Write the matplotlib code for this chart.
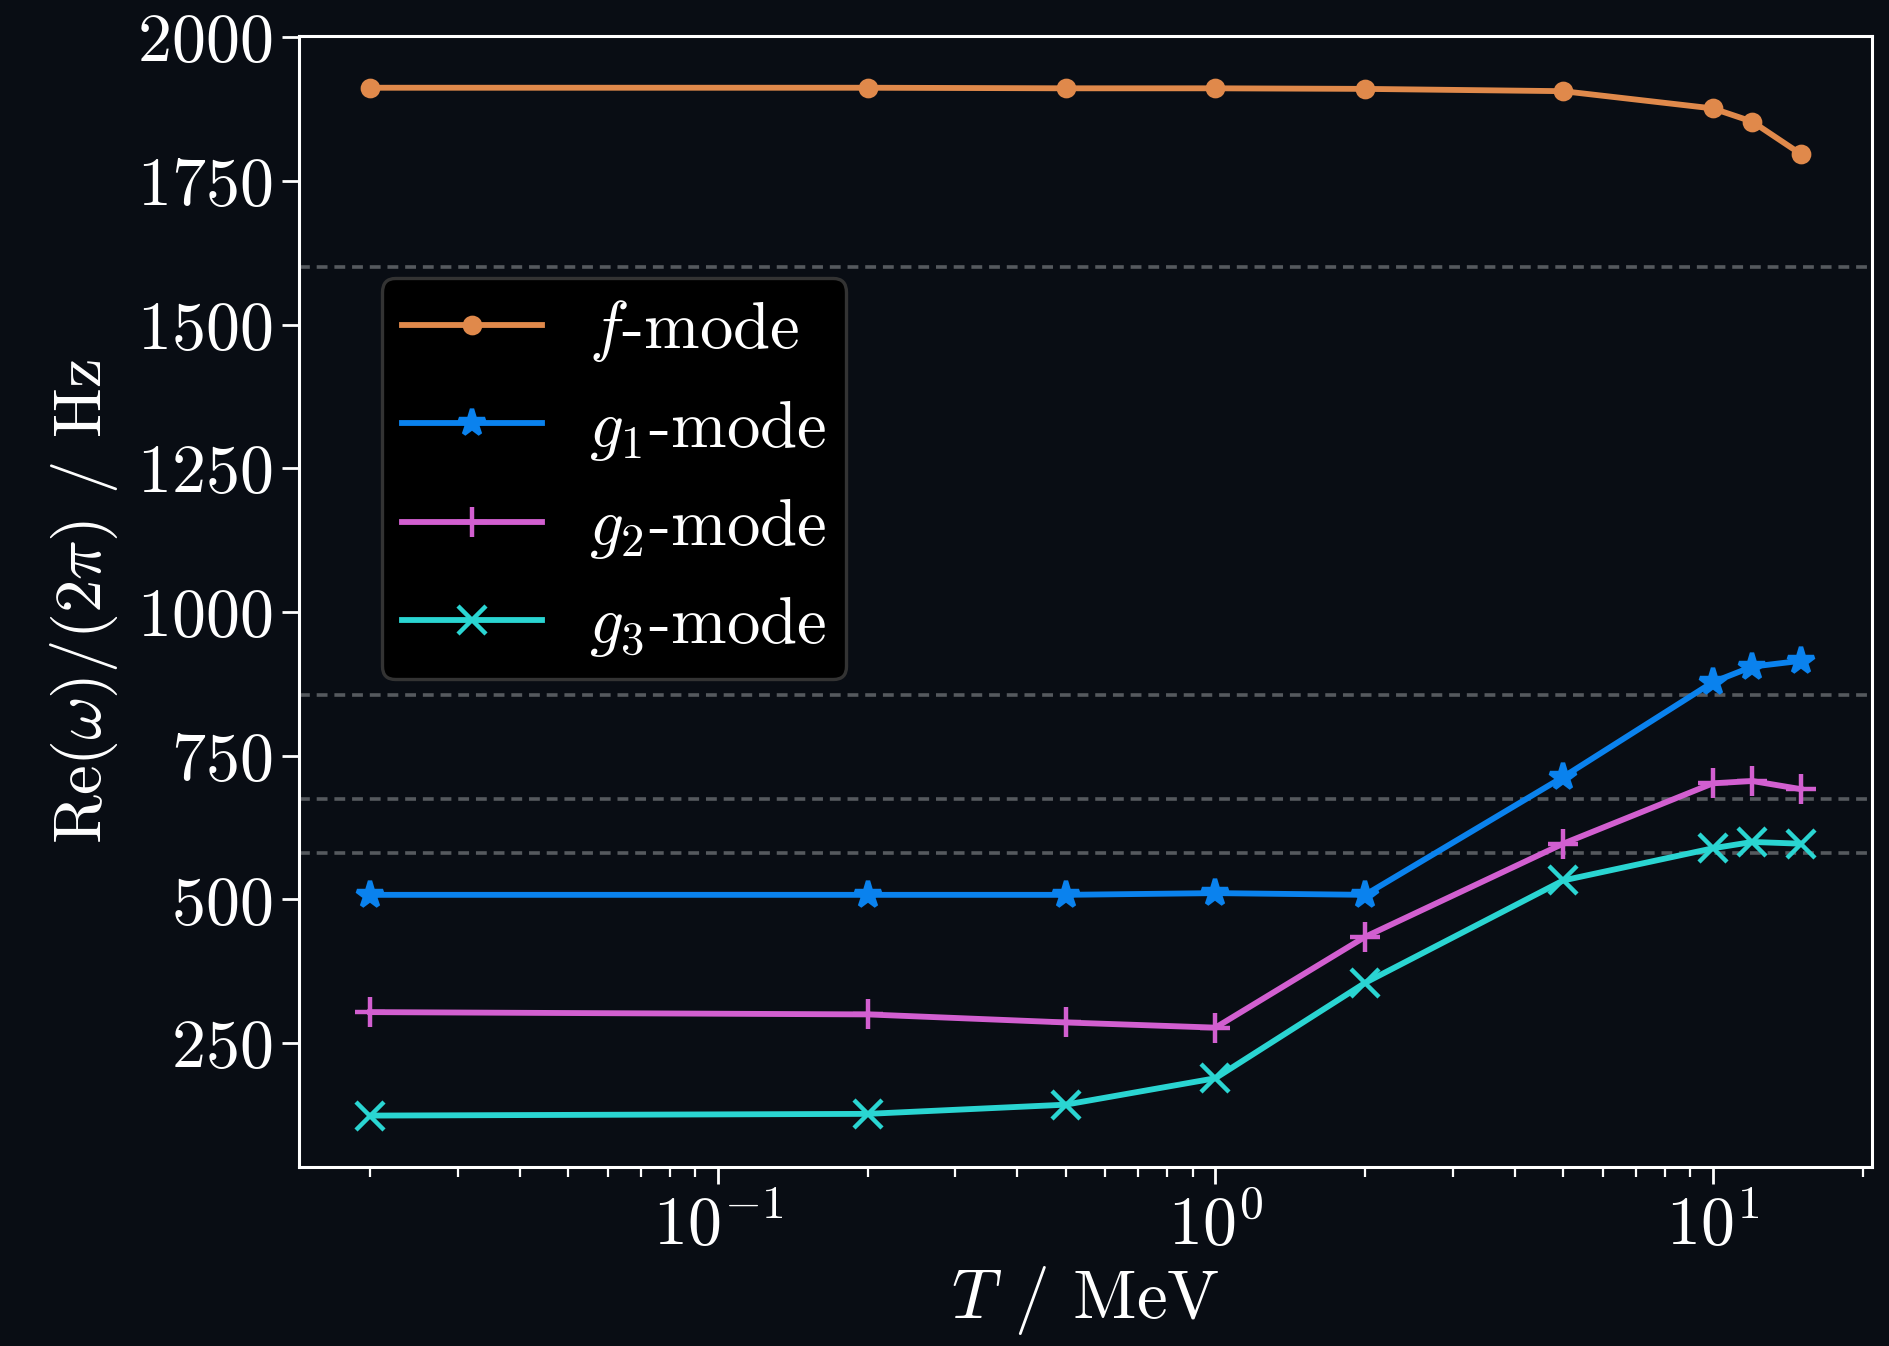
import numpy as np
import matplotlib
matplotlib.use("Agg")
import matplotlib.pyplot as plt

# ===================== data =====================
T_MEV = [0.02, 0.2, 0.5, 1.0, 2.0, 5.0, 10.0, 12.0, 15.0]
F_MODE = [1912, 1912, 1911, 1911, 1910, 1906, 1876, 1853, 1797]
G1_MODE = [508, 508, 508, 511, 508, 713, 878, 905, 915]
G2_MODE = [304, 300, 286, 277, 435, 597, 702, 706, 692]
G3_MODE = [124, 127, 143, 189, 355, 533, 589, 600, 597]
REF_LINES = [1600, 855, 674, 581]

LABELS = [r"$f$-mode", r"$g_1$-mode", r"$g_2$-mode", r"$g_3$-mode"]
COLORS = ["#e0894b", "#0a82ee", "#d25fd0", "#2ad5d2"]
MARKERS = ["o", "*", "+", "x"]
MSIZES = [5.5, 10, 11, 10]

BG = "#090d14"

plt.rcParams["font.family"] = "serif"
plt.rcParams["font.serif"] = ["cmr10", "DejaVu Serif"]
plt.rcParams["mathtext.fontset"] = "cm"
plt.rcParams["axes.formatter.use_mathtext"] = True

fig = plt.figure(figsize=(9.45, 6.73), dpi=200, facecolor=BG)
ax = fig.add_axes([0.158, 0.133, 0.8325, 0.840])
ax.set_facecolor(BG)

for y in REF_LINES:
    ax.axhline(y, color="#55595e", lw=1.3, ls=(0, (3.0, 1.9)), zorder=1)

for vals, lab, col, mk, ms in zip([F_MODE, G1_MODE, G2_MODE, G3_MODE],
                                  LABELS, COLORS, MARKERS, MSIZES):
    ax.plot(T_MEV, vals, color=col, marker=mk, ms=ms, lw=2.1, mew=1.6,
            label=lab, zorder=3)

ax.set_xscale("log")
ax.set_xlabel(r"$T$ / MeV", fontsize=25, color="white", labelpad=2)
ax.set_ylabel(r"$\mathrm{Re}(\omega)/(2\pi)$ / Hz", fontsize=24, color="white",
              labelpad=6)
ax.set_yticks([250, 500, 750, 1000, 1250, 1500, 1750, 2000])

for s in ax.spines.values():
    s.set_color("white")
    s.set_linewidth(1.1)
ax.tick_params(axis="both", which="major", colors="white", labelsize=24.5,
               length=6, width=1.0)
ax.tick_params(axis="x", which="minor", colors="white", length=3.5, width=0.8)

leg = ax.legend(loc="upper left", bbox_to_anchor=(0.053, 0.786),
                borderaxespad=0, fontsize=24, facecolor="black",
                edgecolor="#333333", framealpha=1.0, handlelength=2.1,
                handletextpad=0.7, labelspacing=0.5, borderpad=0.3,
                fancybox=True)
leg.get_frame().set_linewidth(1.2)
for t in leg.get_texts():
    t.set_color("white")

fig.savefig("out.png", dpi=200, facecolor=BG)
